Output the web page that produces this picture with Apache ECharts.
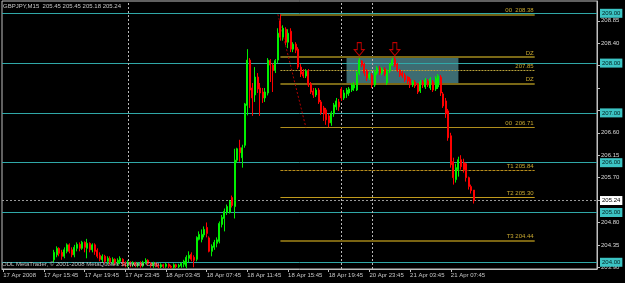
<!DOCTYPE html>
<html><head><meta charset="utf-8">
<script src="https://cdn.jsdelivr.net/npm/echarts@6/dist/echarts.min.js"></script>
<style>html,body{margin:0;padding:0;background:#000}#c{width:625px;height:283px}</style>
</head><body><div id="c"></div>
<script>
// ---------- data ----------
const symbolName = 'GBPJPY,M15';
const lastOHLC = [205.45, 205.45, 205.18, 205.24];
const copyrightText = 'ODL MetaTrader, \u00a9 2001-2008 MetaQuotes Software Corp.';
const timeTickLabels = ['17 Apr 2008','17 Apr 15:45','17 Apr 19:45','17 Apr 23:45','18 Apr 03:45','18 Apr 07:45',
  '18 Apr 11:45','18 Apr 15:45','18 Apr 19:45','20 Apr 23:45','21 Apr 03:45','21 Apr 07:45'];
const barCount = 234;          // visible M15 slots
const firstBarIndex = 20;      // first visible candle slot
const openPrices = [
204.05,204.15,204.28,204.20,204.12,204.22,204.35,204.25,204.15,204.28,
204.36,204.28,204.40,204.28,204.38,204.25,204.35,204.24,204.14,204.05,
204.12,204.02,204.08,204.00,204.06,203.98,204.02,204.06,203.98,203.94,
204.00,203.95,203.99,203.94,203.98,203.93,204.00,204.04,203.98,203.93,
203.98,203.95,203.91,203.95,203.92,203.96,203.92,203.90,203.95,203.91,
203.93,203.96,203.92,204.08,204.16,204.10,204.06,204.46,204.46,204.55,
204.70,204.49,204.22,204.30,204.38,204.42,204.76,204.88,205.00,205.00,
205.30,205.12,206.05,206.30,206.10,206.35,207.15,208.06,207.50,207.36,
207.72,207.50,207.42,207.30,207.40,208.05,207.96,207.85,208.06,208.85,
208.52,208.68,208.42,208.64,208.28,208.38,208.28,207.92,207.82,207.74,
207.84,207.58,207.44,207.36,207.46,207.22,207.10,207.06,206.94,206.80,
206.98,207.12,207.22,207.48,207.30,207.38,207.40,207.46,207.50,207.46,
207.80,208.04,207.98,207.84,207.70,207.76,207.56,207.80,207.90,207.80,
207.88,207.60,207.84,207.96,208.08,207.98,207.86,207.80,207.76,207.72,
207.68,207.56,207.62,207.58,207.44,207.62,207.52,207.64,207.50,207.62,
207.48,207.52,207.72,207.38,207.24,207.04,206.54,206.02,205.66,205.86,
206.06,206.00,205.98,205.70,205.52,205.45];
const closePrices = [
204.20,204.28,204.18,204.12,204.25,204.35,204.22,204.15,204.30,204.36,
204.28,204.40,204.30,204.38,204.25,204.35,204.22,204.12,204.06,204.12,
204.02,204.08,204.00,204.06,203.98,204.04,204.08,203.98,203.94,204.00,
203.95,203.99,203.94,203.98,203.93,204.00,204.04,203.97,203.93,203.98,
203.94,203.91,203.95,203.92,203.96,203.92,203.90,203.95,203.91,203.94,
203.98,204.02,204.10,204.14,204.06,204.04,204.50,204.56,204.56,204.66,
204.58,204.22,204.32,204.40,204.45,204.78,204.90,205.02,205.12,205.22,
205.14,206.05,206.28,206.20,206.30,207.18,208.06,207.46,207.30,207.72,
207.48,207.40,207.30,207.42,208.06,207.96,207.85,208.05,208.60,208.52,
208.70,208.42,208.60,208.28,208.38,208.26,207.92,207.78,207.74,207.84,
207.56,207.42,207.36,207.46,207.22,207.00,206.98,206.86,206.80,207.00,
207.16,207.24,207.12,207.30,207.40,207.46,207.48,207.56,207.56,207.80,
208.06,207.96,207.80,207.70,207.78,207.56,207.82,207.90,207.80,207.88,
207.78,207.84,207.98,208.06,207.96,207.86,207.76,207.74,207.66,207.64,
207.56,207.62,207.54,207.42,207.62,207.56,207.66,207.56,207.68,207.46,
207.70,207.74,207.40,207.14,206.98,206.50,205.96,205.70,205.90,206.06,
205.92,205.86,205.70,205.52,205.44,205.24];
const lowPrices = [
204.00,204.10,204.12,204.05,204.08,204.18,204.18,204.10,204.10,204.22,
204.22,204.25,204.20,204.08,204.20,204.20,204.15,204.08,204.02,204.00,
203.98,203.96,203.95,203.95,203.94,203.93,203.96,203.92,203.90,203.90,
203.90,203.91,203.90,203.90,203.89,203.90,203.96,203.93,203.89,203.89,
203.90,203.88,203.88,203.88,203.89,203.88,203.87,203.87,203.88,203.88,
203.89,203.90,203.88,204.00,204.02,203.90,204.02,204.44,204.40,204.50,
204.50,204.20,204.12,204.25,204.30,204.38,204.70,204.62,204.95,204.98,
205.10,204.88,206.00,206.02,205.90,206.30,206.95,207.10,206.94,207.22,
207.40,206.94,207.20,207.22,207.35,207.62,207.42,207.80,208.00,208.45,
208.45,208.36,208.30,208.22,208.22,208.20,207.88,207.72,207.70,207.70,
207.52,207.38,207.30,207.32,207.18,206.96,206.84,206.76,206.71,206.74,
206.92,207.06,207.04,207.24,207.26,207.30,207.34,207.42,207.44,207.44,
207.76,207.92,207.74,207.64,207.66,207.50,207.52,207.76,207.76,207.76,
207.74,207.56,207.80,207.94,207.92,207.82,207.72,207.70,207.62,207.58,
207.50,207.52,207.50,207.38,207.40,207.50,207.48,207.52,207.46,207.42,
207.44,207.48,207.34,207.10,206.90,206.44,205.90,205.56,205.60,205.72,
205.86,205.80,205.62,205.46,205.38,205.18];
const highPrices = [
204.25,204.32,204.30,204.25,204.30,204.38,204.38,204.30,204.35,204.40,
204.40,204.43,204.42,204.47,204.40,204.38,204.38,204.28,204.20,204.16,
204.15,204.12,204.12,204.10,204.08,204.08,204.12,204.08,204.02,204.04,
204.02,204.02,204.01,204.00,204.02,204.03,204.08,204.06,204.00,204.01,
204.00,203.98,203.98,203.97,203.99,203.98,203.95,203.98,203.97,203.97,
204.00,204.05,204.14,204.22,204.20,204.14,204.52,204.62,204.66,204.72,
204.80,204.52,204.36,204.45,204.50,204.82,204.95,205.08,205.16,205.25,
205.34,206.28,206.30,206.46,206.36,207.20,208.28,208.10,207.60,207.92,
207.80,207.60,207.50,207.50,208.10,208.08,208.00,208.08,208.70,208.98,
208.76,208.72,208.68,208.70,208.42,208.42,208.32,207.98,207.88,207.88,
207.88,207.62,207.50,207.50,207.50,207.26,207.14,207.10,206.98,207.04,
207.20,207.30,207.28,207.52,207.46,207.50,207.52,207.60,207.62,207.84,
208.10,208.06,208.00,207.88,207.82,207.80,207.86,207.94,207.94,207.92,
207.92,207.88,208.00,208.10,208.12,208.00,207.88,207.84,207.80,207.74,
207.72,207.66,207.66,207.60,207.66,207.66,207.70,207.68,207.72,207.66,
207.74,207.78,207.76,207.42,207.30,207.08,206.60,206.10,205.98,206.12,
206.15,206.08,206.00,205.72,205.56,205.45];
const roundLevels = [209.00, 208.00, 207.00, 206.00, 205.00, 204.00];
const priceTicks = [203.90,204.35,204.80,205.25,205.70,206.15,206.60,207.05,207.50,207.95,208.40,208.85];
const priceLabels = [203.90,204.35,204.80,205.70,206.15,206.60,207.95,208.40,208.85];
const bidPrice = 205.24;
const fibLevels = [208.98, 208.12, 207.85, 207.59, 206.71, 205.84, 205.30, 204.44];
const fibTexts  = ['00  208.38','DZ','207.85','DZ','00  206.71','T1 205.84','T2 205.30','T3 204.44'];
const zoneTop = 208.12, zoneBottom = 207.59;
const arrowPrice = 208.15;
const trendFromPrice = 208.98, trendToPrice = 206.71;
// slot positions (category indexes) of drawn objects
const separatorSlots = [49, 133, 145];
const fibStartSlot = 109, fibEndSlot = 209;
const zoneStartSlot = 135, zoneEndSlot = 179;
const arrowSlots = [140, 154];
const trendFromSlot = 108, trendToSlot = 119;

// ---------- build ----------
function fmtTime(ms){
  const d = new Date(ms);
  const p = n => (n<10?'0':'')+n;
  return d.getUTCDate()+' Apr '+p(d.getUTCHours())+':'+p(d.getUTCMinutes());
}
const categories = [];
for (let i=0;i<barCount;i++){
  const t = i<133 ? Date.UTC(2008,3,17,11,45)+i*900000 : Date.UTC(2008,3,20,21,0)+(i-133)*900000;
  categories.push(fmtTime(t));
}
const candleData = [];
for (let i=0;i<barCount;i++) candleData.push('-');
for (let j=0;j<openPrices.length;j++)
  candleData[firstBarIndex+j] = [openPrices[j], closePrices[j], lowPrices[j], highPrices[j]];

const FONT = 'Liberation Sans';
const cyan = '#30a8a8';
const fibStyles = [
  {color:'#6f6114', width:2, type:'solid'},
  {color:'#7a6816', width:2, type:'solid'},
  {color:'#b8a23a', width:1, type:[2,1]},
  {color:'#7a6816', width:2, type:'solid'},
  {color:'#b08e1c', width:1, type:'solid'},
  {color:'#b88e1c', width:1, type:[3,1]},
  {color:'#c09a1c', width:1, type:'solid'},
  {color:'#7a6412', width:2, type:'solid'}
];

const markLines = [];
roundLevels.forEach(v => markLines.push({
  yAxis: v, lineStyle:{color:cyan, width:1, type:'solid'},
  label:{show:true, position:'end', distance:3, formatter: v.toFixed(2), color:'#002020',
    backgroundColor:'#3cc4c4', padding:[2,2,1,2], fontSize:6, fontFamily:FONT}
}));
markLines.push({
  yAxis: bidPrice, lineStyle:{color:'#9a9a9a', width:1, type:[2,2]},
  label:{show:true, position:'end', distance:3, formatter: bidPrice.toFixed(2), color:'#000',
    backgroundColor:'#ffffff', padding:[2,2,1,2], fontSize:6, fontFamily:FONT}
});
separatorSlots.forEach(s => markLines.push({
  xAxis: s, lineStyle:{color:'#b8b8b8', width:1, type:[2,2]}, label:{show:false}
}));
fibLevels.forEach((lv, k) => markLines.push([
  {coord:[fibStartSlot, lv], lineStyle:fibStyles[k],
   label:{show:true, position:'insideEndTop', distance:1, formatter: fibTexts[k], color:'#c8a830',
     fontSize:6, fontFamily:FONT}},
  {coord:[fibEndSlot, lv]}
]));
markLines.push([
  {coord:[trendFromSlot, trendFromPrice], lineStyle:{color:'#b00000', width:1, type:[2,2]}, label:{show:false}},
  {coord:[trendToSlot, trendToPrice]}
]);

const chart = echarts.init(document.getElementById('c'), null, {renderer:'canvas'});
chart.setOption({
  animation:false,
  backgroundColor:'#000',
  title:[
    {text: symbolName+'  '+lastOHLC.map(v=>v.toFixed(2)).join(' '), left:3, top:3, padding:0,
      textStyle:{color:'#c8c8c8', fontSize:6, fontWeight:'normal', fontFamily:FONT}},
    {text: copyrightText, left:2, top:261, padding:0,
      textStyle:{color:'#c0c0c0', fontSize:6, fontWeight:'normal', fontFamily:FONT}}
  ],
  grid:{left:2, right:28, top:1, bottom:14, show:true, borderColor:'#c0c0c0', borderWidth:1, backgroundColor:'#000'},
  xAxis:{
    type:'category', data:categories, boundaryGap:true,
    axisLine:{show:true, lineStyle:{color:'#c0c0c0'}},
    axisTick:{show:true, alignWithLabel:true, length:3, lineStyle:{color:'#c0c0c0'},
      interval:(i)=> i%16===0 && i/16 < timeTickLabels.length},
    axisLabel:{show:true, color:'#c8c8c8', fontSize:6, fontFamily:FONT, align:'left', margin:3,
      interval:(i)=> i%16===0 && i/16 < timeTickLabels.length,
      formatter:(v, i)=> timeTickLabels[i/16] || ''},
    splitLine:{show:false}
  },
  yAxis:{
    type:'value', position:'right', min:203.865, max:209.247,
    axisLine:{show:true, lineStyle:{color:'#c0c0c0'}},
    axisTick:{show:true, length:3, customValues:priceTicks, lineStyle:{color:'#c0c0c0'}},
    axisLabel:{show:true, customValues:priceLabels, color:'#d8d8d8', fontSize:6, fontFamily:FONT, margin:4,
      formatter:(v)=> v.toFixed(2)},
    splitLine:{show:false}
  },
  series:[
    {type:'line', data:[], z:1, silent:true,
      markArea:{silent:true, itemStyle:{color:'#3d6c72'},
        data:[[{coord:[zoneStartSlot, zoneTop]},{coord:[zoneEndSlot, zoneBottom]}]]}},
    {type:'line', data:[], z:2, silent:true,
      markLine:{silent:true, symbol:['none','none'], animation:false, data:markLines}},
    {type:'candlestick', data:candleData, z:5, barWidth:1.5,
      itemStyle:{color:'#00f000', color0:'#ff0000', borderColor:'#00f000', borderColor0:'#ff0000', borderWidth:1}},
    {type:'line', data:[], z:6, silent:true,
      markPoint:{silent:true,
        symbol:'path://M3,0 L7,0 L7,7 L10,7 L5,13 L0,7 L3,7 Z',
        symbolSize:[10,13], symbolOffset:[0,'-50%'],
        itemStyle:{color:'rgba(0,0,0,0)', borderColor:'#c00000', borderWidth:1},
        label:{show:false},
        data: arrowSlots.map(s => ({coord:[s, arrowPrice]}))}}
  ]
});
</script></body></html>
